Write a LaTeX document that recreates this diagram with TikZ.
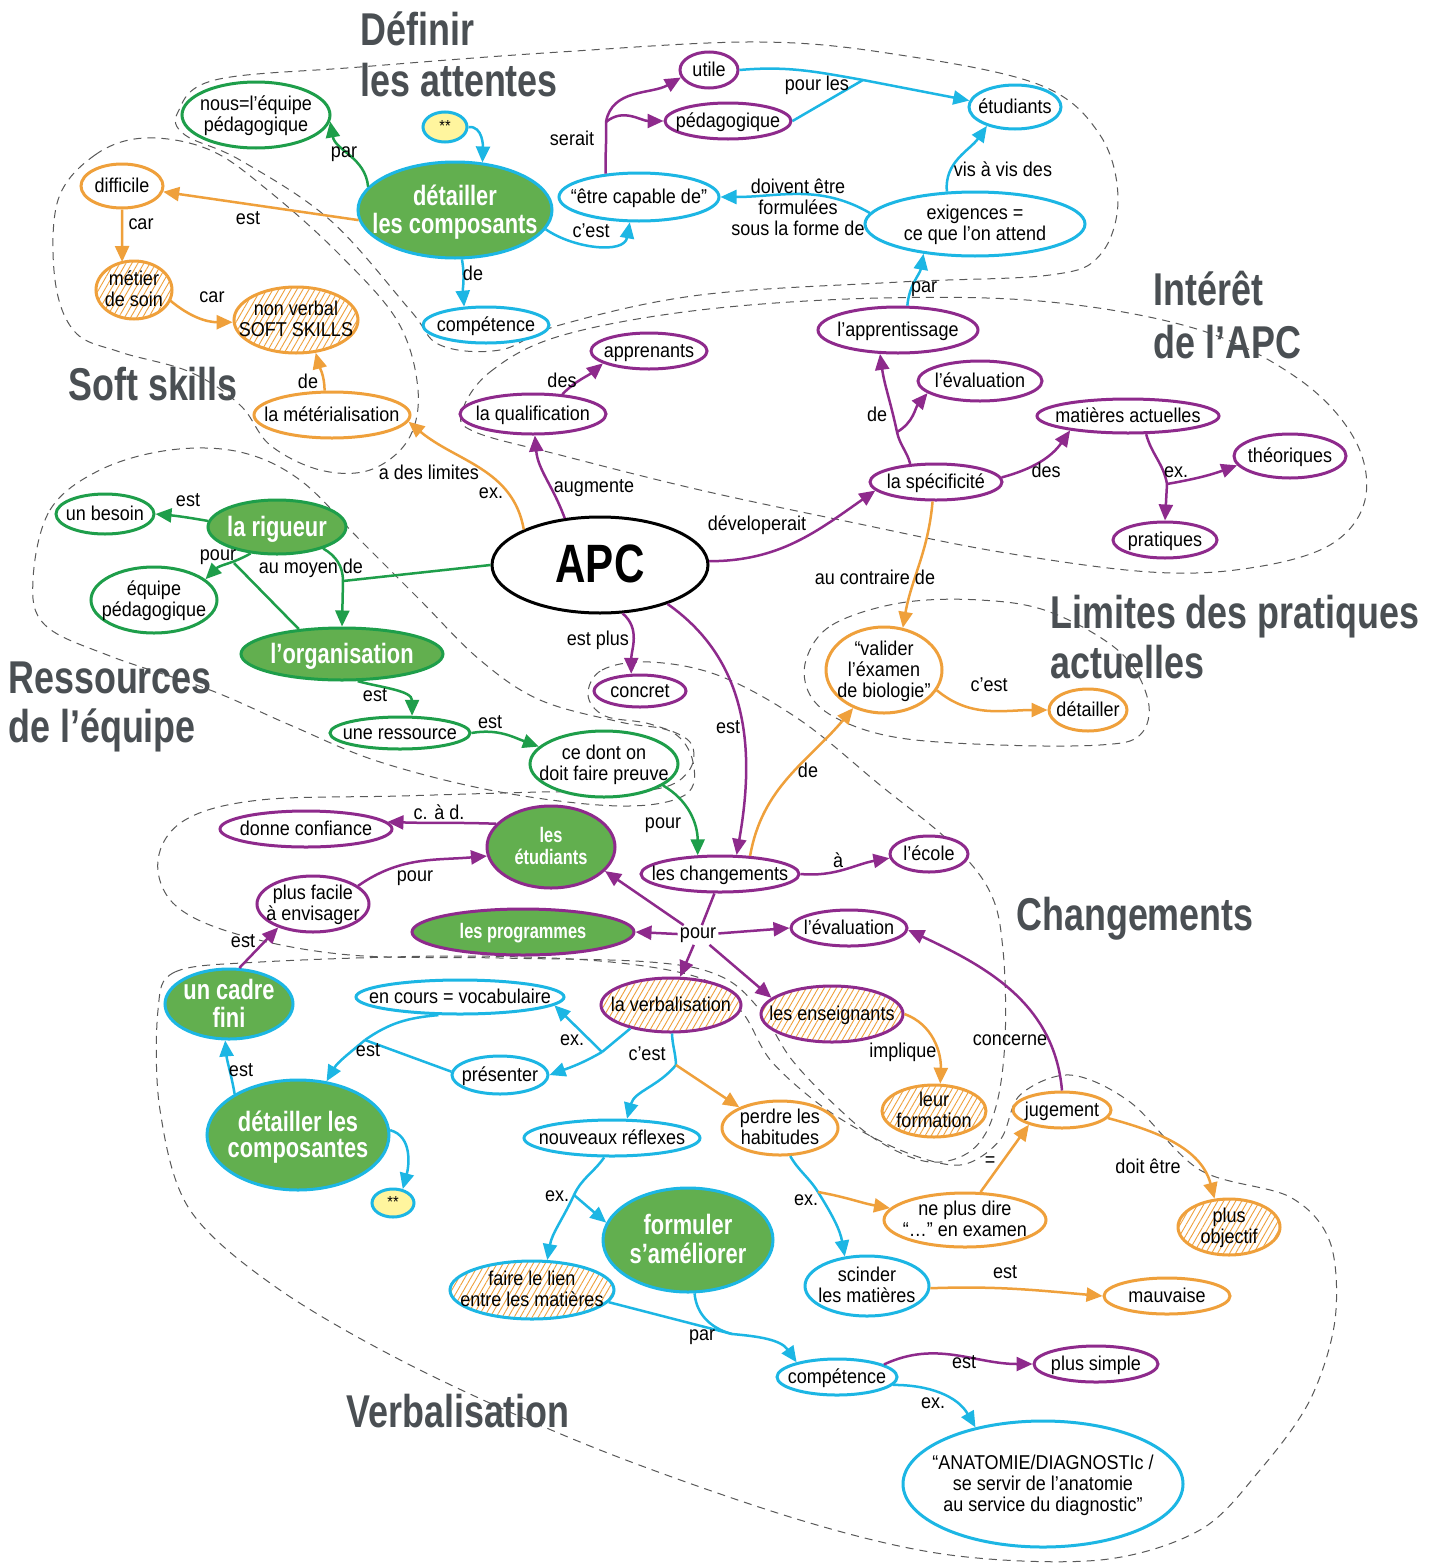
\documentclass[tikz,border=0pt]{standalone}
\usepackage{fontspec}
\setmainfont{Liberation Sans}[FakeStretch=0.9]
\newfontfamily\tfont{Liberation Sans}[FakeStretch=0.78]
\usetikzlibrary{arrows.meta,shapes.geometric,patterns,patterns.meta}
\definecolor{cgreen}{HTML}{1E9E4A}
\definecolor{cfill}{HTML}{62AF4F}
\definecolor{ccyan}{HTML}{1CB6E4}
\definecolor{cpurple}{HTML}{8E2A8C}
\definecolor{corange}{HTML}{EFA03B}
\definecolor{cyellow}{HTML}{FFF59E}
\definecolor{ctitle}{HTML}{4A4F53}
\newcommand\lfont{\fontsize{10}{10.5}\selectfont}
\newcommand\bfont{\tfont\bfseries\fontsize{14}{13}\selectfont}
\newcommand\sbfont{\tfont\bfseries\fontsize{10.5}{10.5}\selectfont}
\newcommand\ttlfont{\tfont\bfseries\fontsize{23}{25}\selectfont}
\newcommand\apcfont{\tfont\bfseries\fontsize{27}{27}\selectfont}
\newcommand\zt[1]{\smash{\makebox[0pt]{\raisebox{-0.36em}{\begin{tabular}[c]{@{}c@{}}#1\end{tabular}}}}}
\newcommand\Nd[7]{\node[#6, minimum width=#4*0.5pt, minimum height=#5*0.5pt] (#1) at (#2,-#3) {\zt{#7}};}
\tikzset{
  nd/.style={ellipse, inner sep=0pt, line width=1.5pt, fill=white, font=\lfont},
  wO/.style={nd, draw=corange}, wG/.style={nd, draw=cgreen},
  wC/.style={nd, draw=ccyan}, wP/.style={nd, draw=cpurple},
  hatch/.style={nd, preaction={fill=white}, pattern={Lines[angle=60,distance=2.6pt,line width=0.45pt]}, pattern color=corange},
  hO/.style={hatch, draw=corange}, hP/.style={hatch, draw=cpurple}, hC/.style={hatch, draw=ccyan},
  big/.style={nd, fill=cfill, text=white, font=\bfont},
  gC/.style={big, draw=ccyan}, gG/.style={big, draw=cgreen}, gP/.style={big, draw=cpurple},
  gPs/.style={gP, font=\sbfont},
  yC/.style={nd, fill=cyellow, draw=ccyan, font=\fontsize{8}{8}\selectfont},
  apcst/.style={nd, draw=black, font=\apcfont},
  eG/.style={draw=cgreen, line width=1.25pt},
  eC/.style={draw=ccyan, line width=1.25pt},
  eP/.style={draw=cpurple, line width=1.25pt},
  eO/.style={draw=corange, line width=1.25pt},
  ar/.style={-{Triangle[length=8pt,width=7pt]}},
  lb/.style={font=\lfont, inner sep=1pt, align=center},
  ttl/.style={font=\ttlfont, text=ctitle, inner sep=0pt, anchor=base west},
  rg/.style={draw=black!65, line width=0.5pt, dash pattern=on 4pt off 3pt},
}
\begin{document}
\begin{tikzpicture}[x=0.5pt,y=0.5pt]
\fill[white] (0,0) rectangle (1440,-1563);
\useasboundingbox (0,0) rectangle (1440,-1563);

% ---------- dashed regions ----------
\draw[rg] plot[smooth cycle, tension=0.6] coordinates {(178,-112) (215,-80) (360,-67) (560,-52) (760,-42) (900,-55) (1040,-85) (1100,-135) (1118,-200) (1100,-255) (1050,-275) (900,-282) (700,-295) (560,-325) (500,-350) (440,-345) (410,-310) (330,-220) (240,-160) (185,-135)};
\draw[rg] plot[smooth cycle, tension=0.6] coordinates {(58,-200) (95,-155) (145,-138) (210,-150) (270,-192) (340,-255) (398,-322) (418,-390) (408,-440) (370,-470) (320,-470) (270,-445) (240,-405) (190,-372) (120,-352) (75,-332) (55,-280)};
\draw[rg] plot[smooth cycle, tension=0.6] coordinates {(462,-412) (490,-372) (560,-336) (700,-310) (880,-298) (1050,-302) (1200,-330) (1300,-380) (1355,-440) (1365,-500) (1330,-545) (1250,-568) (1150,-572) (1000,-552) (850,-522) (700,-490) (560,-455) (475,-432)};
\draw[rg] plot[smooth cycle, tension=0.6] coordinates {(33,-580) (50,-510) (100,-470) (170,-450) (240,-452) (300,-480) (360,-540) (420,-600) (480,-660) (540,-700) (620,-722) (672,-732) (693,-762) (685,-795) (620,-806) (500,-792) (380,-762) (290,-725) (210,-690) (110,-656) (45,-625)};
\draw[rg] plot[smooth cycle, tension=0.6] coordinates {(588,-695) (602,-670) (650,-662) (720,-676) (800,-720) (880,-785) (950,-842) (990,-892) (1003,-950) (1005,-1040) (995,-1110) (972,-1150) (930,-1162) (880,-1142) (838,-1108) (792,-1060) (760,-1010) (720,-976) (650,-962) (500,-958) (350,-955) (240,-935) (175,-905) (158,-860) (185,-820) (260,-800) (400,-796) (540,-792) (650,-790) (688,-772) (690,-742) (650,-724) (605,-716)};
\draw[rg] plot[smooth cycle, tension=0.6] coordinates {(806,-660) (832,-625) (900,-603) (980,-600) (1050,-612) (1120,-652) (1148,-700) (1140,-735) (1100,-745) (1000,-745) (900,-738) (840,-720) (810,-695)};
\draw[rg] plot[smooth cycle, tension=0.55] coordinates {(158,-1010) (175,-972) (260,-962) (450,-956) (600,-961) (700,-978) (742,-1012) (772,-1062) (830,-1112) (900,-1150) (960,-1165) (1000,-1140) (1020,-1095) (1070,-1075) (1130,-1102) (1200,-1170) (1290,-1197) (1330,-1242) (1335,-1320) (1310,-1400) (1260,-1470) (1200,-1530) (1100,-1560) (950,-1555) (800,-1520) (600,-1450) (420,-1370) (280,-1290) (190,-1210) (160,-1110)};

% ---------- titles ----------
\node[ttl] (t1) at (360,-46) {Définir};
\node[ttl] (t2) at (360,-96) {les attentes};
\node[ttl] (t3) at (68,-400) {Soft skills};
\node[ttl] (t4) at (1153,-305) {Intérêt};
\node[ttl] (t5) at (1153,-358) {de l’APC};
\node[ttl] (t6) at (1050,-628) {Limites des pratiques};
\node[ttl] (t7) at (1050,-678) {actuelles};
\node[ttl] (t8) at (8,-693) {Ressources};
\node[ttl] (t9) at (8,-742) {de l’équipe};
\node[ttl] (t10) at (1016,-930) {Changements};
\node[ttl] (t11) at (346,-1427) {Verbalisation};

% ---------- nodes ----------
\Nd{nous}{256}{115}{148}{66}{wG}{nous=l’équipe\\pédagogique}
\Nd{star1}{445}{127}{44}{30}{yC}{**}
\Nd{detC}{455}{210}{194}{96}{gC}{détailler\\les composants}
\Nd{difficile}{122}{186}{82}{44}{wO}{difficile}
\Nd{metier}{134}{290}{76}{58}{hO}{métier\\de soin}
\Nd{nonverbal}{296}{320}{124}{66}{hO}{non verbal\\SOFT SKILLS}
\Nd{materi}{332}{415}{156}{46}{wO}{la métérialisation}
\Nd{competence1}{486}{325}{126}{36}{wC}{compétence}
\Nd{etre}{639}{197}{160}{48}{wC}{“être capable de”}
\Nd{utile}{709}{70}{58}{36}{wP}{utile}
\Nd{pedagogique}{728}{121}{126}{36}{wP}{pédagogique}
\Nd{etudiants1}{1015}{107}{92}{44}{wC}{étudiants}
\Nd{exigences}{975}{224}{220}{64}{wC}{exigences =\\ce que l’on attend}
\Nd{apprentissage}{898}{330}{160}{46}{wP}{l’apprentissage}
\Nd{apprenants}{649}{351}{116}{36}{wP}{apprenants}
\Nd{qualification}{533}{414}{146}{40}{wP}{la qualification}
\Nd{evaluation1}{980}{381}{124}{40}{wP}{l’évaluation}
\Nd{matieres}{1128}{416}{182}{34}{wP}{matières actuelles}
\Nd{specificite}{936}{482}{132}{36}{wP}{la spécificité}
\Nd{theoriques}{1290}{456}{112}{44}{wP}{théoriques}
\Nd{pratiques}{1165}{540}{104}{36}{wP}{pratiques}
\Nd{APC}{600}{565}{216}{96}{apcst}{APC}
\Nd{besoin}{105}{514}{98}{40}{wG}{un besoin}
\Nd{rigueur}{277}{527}{138}{54}{gG}{la rigueur}
\Nd{equipe}{154}{600}{126}{66}{wG}{équipe\\pédagogique}
\Nd{organisation}{342}{654}{202}{52}{gG}{l’organisation}
\Nd{ressource}{400}{733}{140}{32}{wG}{une ressource}
\Nd{cedont}{604}{764}{148}{66}{wG}{ce dont on\\doit faire preuve}
\Nd{concret}{640}{691}{92}{32}{wP}{concret}
\Nd{valider}{884}{670}{116}{86}{wO}{“valider\\l’éxamen\\de biologie”}
\Nd{detailler}{1088}{710}{78}{42}{wO}{détailler}
\Nd{etudiantsG}{551}{847}{128}{82}{gPs}{les\\étudiants}
\Nd{confiance}{306}{829}{172}{36}{wP}{donne confiance}
\Nd{facile}{313}{904}{112}{56}{wP}{plus facile\\à envisager}
\Nd{changements}{720}{874}{158}{36}{wP}{les changements}
\Nd{ecole}{929}{854}{78}{36}{wP}{l’école}
\Nd{programmes}{523}{932}{222}{46}{gPs}{les programmes}
\Nd{evaluation2}{849}{928}{116}{36}{wP}{l’évaluation}
\Nd{cadre}{229}{1004}{128}{70}{gC}{un cadre\\fini}
\Nd{encours}{460}{997}{208}{34}{wC}{en cours = vocabulaire}
\Nd{verbalisation}{671}{1005}{140}{54}{hP}{la verbalisation}
\Nd{enseignants}{832}{1014}{142}{56}{hP}{les enseignants}
\Nd{presenter}{500}{1075}{96}{38}{wC}{présenter}
\Nd{detC2}{298}{1135}{182}{110}{gC}{détailler les\\composantes}
\Nd{star2}{393}{1203}{42}{28}{yC}{**}
\Nd{reflexes}{612}{1138}{176}{36}{wC}{nouveaux réflexes}
\Nd{habitudes}{780}{1128}{116}{54}{wO}{perdre les\\habitudes}
\Nd{formation}{934}{1111}{104}{52}{hO}{leur\\formation}
\Nd{jugement}{1062}{1110}{98}{36}{wO}{jugement}
\Nd{plusobj}{1229}{1227}{102}{56}{hO}{plus\\objectif}
\Nd{neplus}{965}{1220}{162}{54}{wO}{ne plus dire\\“…” en examen}
\Nd{formuler}{688}{1240}{170}{104}{gC}{formuler\\s’améliorer}
\Nd{lien}{532}{1290}{164}{58}{hC}{faire le lien\\entre les matières}
\Nd{scinder}{867}{1286}{124}{60}{wC}{scinder\\les matières}
\Nd{mauvaise}{1167}{1296}{126}{36}{wO}{mauvaise}
\Nd{competence2}{837}{1377}{120}{36}{wC}{compétence}
\Nd{plussimple}{1096}{1364}{124}{36}{wP}{plus simple}
\Nd{anatomie}{1043}{1484}{280}{126}{wC}{“ANATOMIE/DIAGNOSTIc /\\se servir de l’anatomie\\au service du diagnostic”}

% ---------- junction coordinates ----------
\coordinate (jPour) at (234,-563);
\coordinate (jMoy) at (343,-581);
\coordinate (jPL) at (863,-80);
\coordinate (jSer) at (606,-122);
\coordinate (jDe) at (897,-432);
\coordinate (jEx) at (1167,-484);
\coordinate (jCe) at (676,-1065);
\coordinate (jEx2) at (602,-1052);
\coordinate (jEst) at (365,-1040);
\coordinate (jEx3) at (574,-1195);
\coordinate (jEx4) at (818,-1192);
\coordinate (jPar) at (732,-1334);
\node[lb] (jP2) at (698,-935) {pour};

% ---------- green ----------
\draw[eG,ar] (detC.165) to[out=95,in=-80] (nous.-5);
\draw[eG,ar] (rigueur.175) to[out=170,in=-5] (besoin.east);
\draw[eG,ar] (rigueur.-135) to[out=-150,in=45] (equipe.22);
\draw[eG] (organisation.150) -- (jPour);
\draw[eG] (APC.west) -- (jMoy);
\draw[eG] (rigueur.-25) to[out=-30,in=90] (jMoy);
\draw[eG,ar] (jMoy) -- (organisation.north);
\draw[eG,ar] (organisation.-60) to[out=-15,in=90] (ressource.55);
\draw[eG,ar] (ressource.east) to[out=10,in=160] (cedont.165);
\draw[eG,ar] (cedont.-20) to[out=-30,in=90] (changements.140);

% ---------- cyan ----------
\draw[eC,ar] (star1.east) to[out=5,in=88] (detC.60);
\draw[eC,ar] (detC.-12) to[out=-35,in=-100] (etre.-110);
\draw[eC,ar] (detC.-82) to[out=-80,in=95] (competence1.140);
\draw[eC,ar] (exigences.174) to[out=150,in=0] (etre.0);
\draw[eC,ar] (exigences.131) to[out=95,in=-125] (etudiants1.-146);
\draw[eC] (utile.east) to[out=5,in=170] (jPL);
\draw[eC] (pedagogique.east) -- (jPL);
\draw[eC,ar] (jPL) -- (etudiants1.172);
\draw[eC,ar] (apprentissage.69) to[out=85,in=-100] (exigences.-150);
\draw[eC] (verbalisation.-88) to[out=-88,in=92] (jCe);
\draw[eC,ar] (jCe) to[out=-130,in=75] (reflexes.52);
\draw[eC] (verbalisation.-150) -- (jEx2);
\draw[eC,ar] (jEx2) -- (encours.-5);
\draw[eC,ar] (jEx2) to[out=-150,in=20] (presenter.0);
\draw[eC] (encours.-140) to[out=185,in=35] (jEst);
\draw[eC] (presenter.176) -- (jEst);
\draw[eC,ar] (jEst) to[out=-140,in=60] (detC2.62);
\draw[eC,ar] (detC2.147) to[out=100,in=-85] (cadre.-96);
\draw[eC,ar] (detC2.3) to[out=-15,in=75] (star2.55);
\draw[eC] (reflexes.-112) to[out=-125,in=65] (jEx3);
\draw[eC,ar] (jEx3) to[out=-115,in=80] (lien.63);
\draw[eC,ar] (jEx3) -- (formuler.168);
\draw[eC] (habitudes.-70) to[out=-60,in=122] (jEx4);
\draw[eC,ar] (jEx4) to[out=-58,in=100] (scinder.127);
\draw[eC] (lien.-9) -- (jPar);
\draw[eC] (formuler.-83) to[out=-85,in=165] (jPar);
\draw[eC,ar] (jPar) to[out=-5,in=125] (competence2.160);
\draw[eC,ar] (competence2.-8) to[out=0,in=120] (anatomie.140);

% ---------- purple ----------
\draw[eP] (etre.145) to[out=92,in=-88] (jSer);
\draw[eP,ar] (jSer) to[out=80,in=210] (utile.195);
\draw[eP,ar] (jSer) to[out=40,in=180] (pedagogique.west);
\draw[eP,ar] (APC.127) to[out=110,in=-85] (qualification.-85);
\draw[eP,ar] (qualification.34) to[out=45,in=-140] (apprenants.-165);
\draw[eP,ar] (APC.2) to[out=0,in=-145] (specificite.-172);
\draw[eP] (specificite.145) to[out=105,in=-78] (jDe);
\draw[eP,ar] (jDe) to[out=102,in=-82] (apprentissage.-127);
\draw[eP,ar] (jDe) to[out=30,in=-130] (evaluation1.-167);
\draw[eP,ar] (specificite.4) to[out=15,in=-125] (matieres.-166);
\draw[eP] (matieres.-45) to[out=-75,in=100] (jEx);
\draw[eP,ar] (jEx) -- (pratiques.north);
\draw[eP,ar] (jEx) to[out=10,in=200] (theoriques.-170);
\draw[eP,ar] (APC.-65) to[out=-40,in=90] (concret.117);
\draw[eP,ar] (APC.-30) to[out=-35,in=80] (changements.49);
\draw[eP,ar] (etudiantsG.157) to[out=178,in=-2] (confiance.5);
\draw[eP,ar] (facile.22) to[out=35,in=185] (etudiantsG.-172);
\draw[eP,ar] (cadre.74) -- (facile.-146);
\draw[eP] (changements.-106) -- (jP2);
\draw[eP,ar] (jP2) -- (etudiantsG.-24);
\draw[eP,ar] (jP2) -- (programmes.east);
\draw[eP,ar] (jP2) -- (evaluation2.west);
\draw[eP,ar] (jP2) -- (verbalisation.72);
\draw[eP,ar] (jP2) -- (enseignants.165);
\draw[eP,ar] (changements.east) to[out=-5,in=190] (ecole.-174);
\draw[eP,ar] (jugement.north) to[out=95,in=-25] (evaluation2.-2);
\draw[eP,ar] (competence2.15) to[out=25,in=180] (plussimple.west);

% ---------- orange ----------
\draw[eO,ar] (detC.186) -- (difficile.-8);
\draw[eO,ar] (difficile.-90) -- (metier.113);
\draw[eO,ar] (metier.-16) to[out=-40,in=180] (nonverbal.182);
\draw[eO,ar] (materi.107) to[out=90,in=-75] (nonverbal.-59);
\draw[eO,ar] (APC.155) to[out=100,in=-40] (materi.-5);
\draw[eO,ar] (specificite.-100) to[out=-95,in=80] (valider.66);
\draw[eO,ar] (valider.-21) to[out=-40,in=180] (detailler.west);
\draw[eO,ar] (changements.31) to[out=80,in=-130] (valider.-129);
\draw[eO,ar] (enseignants.0) to[out=-20,in=88] (formation.77);
\draw[eO,ar] (jCe) -- (habitudes.153);
\draw[eO,ar] (jEx4) to[out=-10,in=170] (neplus.171);
\draw[eO,ar] (neplus.61) -- (jugement.-156);
\draw[eO,ar] (jugement.-10) to[out=-15,in=105] (plusobj.117);
\draw[eO,ar] (scinder.-2) to[out=2,in=175] (mauvaise.180);

% ---------- link labels ----------
\node[lb] (l1) at (344,-154) {par};
\node[lb] (l2) at (248,-218) {est};
\node[lb] (l3) at (141,-224) {car};
\node[lb] (l4) at (212,-297) {car};
\node[lb] (l5) at (308,-381) {de};
\node[lb] (l6) at (591,-231) {c’est};
\node[lb] (l7) at (473,-273) {de};
\node[lb] (l8) at (798,-207) {doivent être\\formulées\\sous la forme de};
\node[lb] (l9) at (1003,-169) {vis à vis des};
\node[lb] (l10) at (817,-85) {pour les};
\node[lb] (l11) at (924,-289) {par};
\node[lb] (l12) at (572,-138) {serait};
\node[lb] (l13) at (594,-488) {augmente};
\node[lb] (l14) at (562,-380) {des};
\node[lb] (l15) at (757,-525) {déveloperait};
\node[lb] (l16) at (877,-414) {de};
\node[lb] (l17) at (1046,-470) {des};
\node[lb] (l18) at (1176,-472) {ex.};
\node[lb] (l19) at (598,-640) {est plus};
\node[lb] (l20) at (728,-727) {est};
\node[lb] (l21) at (429,-472) {a des limites};
\node[lb] (l22) at (491,-493) {ex.};
\node[lb] (l23) at (875,-577) {au contraire de};
\node[lb] (l24) at (989,-685) {c’est};
\node[lb] (l25) at (808,-770) {de};
\node[lb] (l26) at (188,-500) {est};
\node[lb] (l27) at (218,-557) {pour};
\node[lb] (l28) at (311,-568) {au moyen de};
\node[lb] (l29) at (375,-695) {est};
\node[lb] (l30) at (490,-722) {est};
\node[lb] (l31) at (663,-825) {pour};
\node[lb] (l32) at (439,-812) {c. à d.};
\node[lb] (l33) at (415,-878) {pour};
\node[lb] (l34) at (243,-941) {est};
\node[lb] (l35) at (838,-860) {à};
\node[lb] (l36) at (1010,-1040) {concerne};
\node[lb] (l37) at (964,-1362) {est};
\node[lb] (l38) at (903,-1052) {implique};
\node[lb] (l39) at (647,-1054) {c’est};
\node[lb] (l40) at (572,-1040) {ex.};
\node[lb] (l41) at (368,-1050) {est};
\node[lb] (l42) at (241,-1070) {est};
\node[lb] (l43) at (557,-1196) {ex.};
\node[lb] (l44) at (806,-1200) {ex.};
\node[lb] (l45) at (990,-1162) {=};
\node[lb] (l46) at (1148,-1166) {doit être};
\node[lb] (l47) at (1005,-1272) {est};
\node[lb] (l48) at (702,-1337) {par};
\node[lb] (l49) at (933,-1403) {ex.};
\end{tikzpicture}
\end{document}
